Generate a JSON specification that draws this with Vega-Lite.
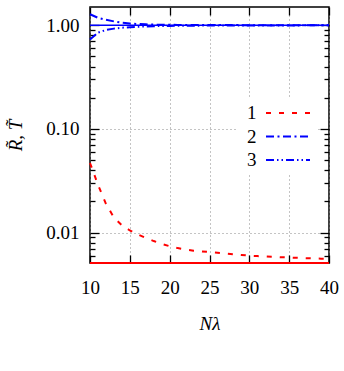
{
  "$schema": "https://vega.github.io/schema/vega-lite/v6.json",
  "width": 239,
  "height": 256,
  "autosize": "none",
  "padding": {"left": 90, "top": 7, "right": 15, "bottom": 108},
  "background": "white",
  "config": {
    "font": "Liberation Serif",
    "view": {"stroke": "black", "strokeWidth": 1.5},
    "axis": {
      "domain": false,
      "tickColor": "black",
      "tickWidth": 1.3,
      "labelColor": "black",
      "labelFont": "Liberation Serif",
      "labelFontSize": 19,
      "labelFlush": false,
      "titleColor": "black",
      "titleFont": "Liberation Serif",
      "titleFontSize": 19,
      "titleFontWeight": "normal",
      "titleFontStyle": "italic",
      "gridColor": "#888888",
      "gridDash": [1, 3],
      "gridWidth": 1
    }
  },
  "datasets": {
    "curves": [
      {"N": 10, "v": 0.047, "s": "1"}, {"N": 11, "v": 0.029, "s": "1"}, {"N": 12, "v": 0.019, "s": "1"},
      {"N": 13, "v": 0.014, "s": "1"}, {"N": 14, "v": 0.0118, "s": "1"}, {"N": 15, "v": 0.0105, "s": "1"},
      {"N": 16, "v": 0.0096, "s": "1"}, {"N": 17, "v": 0.0089, "s": "1"}, {"N": 18, "v": 0.0083, "s": "1"},
      {"N": 19, "v": 0.0078, "s": "1"}, {"N": 20, "v": 0.0074, "s": "1"}, {"N": 21, "v": 0.0071, "s": "1"},
      {"N": 22, "v": 0.0069, "s": "1"}, {"N": 23, "v": 0.0067, "s": "1"}, {"N": 24, "v": 0.0066, "s": "1"},
      {"N": 25, "v": 0.0065, "s": "1"}, {"N": 26, "v": 0.0064, "s": "1"}, {"N": 27, "v": 0.0063, "s": "1"},
      {"N": 28, "v": 0.0062, "s": "1"}, {"N": 29, "v": 0.0061, "s": "1"}, {"N": 30, "v": 0.006, "s": "1"},
      {"N": 31, "v": 0.00595, "s": "1"}, {"N": 32, "v": 0.0059, "s": "1"}, {"N": 33, "v": 0.00585, "s": "1"},
      {"N": 34, "v": 0.0058, "s": "1"}, {"N": 35, "v": 0.00576, "s": "1"}, {"N": 36, "v": 0.00572, "s": "1"},
      {"N": 37, "v": 0.00568, "s": "1"}, {"N": 38, "v": 0.00565, "s": "1"}, {"N": 39, "v": 0.00562, "s": "1"},
      {"N": 40, "v": 0.0056, "s": "1"},
      {"N": 10, "v": 1.276, "s": "2"}, {"N": 11, "v": 1.18, "s": "2"}, {"N": 12, "v": 1.13, "s": "2"},
      {"N": 13, "v": 1.09, "s": "2"}, {"N": 14, "v": 1.06, "s": "2"}, {"N": 15, "v": 1.04, "s": "2"},
      {"N": 16, "v": 1.028, "s": "2"}, {"N": 17, "v": 1.02, "s": "2"}, {"N": 18, "v": 1.015, "s": "2"},
      {"N": 19, "v": 1.012, "s": "2"}, {"N": 20, "v": 1.01, "s": "2"}, {"N": 21, "v": 1.008, "s": "2"},
      {"N": 22, "v": 1.007, "s": "2"}, {"N": 23, "v": 1.006, "s": "2"}, {"N": 24, "v": 1.005, "s": "2"},
      {"N": 25, "v": 1.005, "s": "2"}, {"N": 26, "v": 1.004, "s": "2"}, {"N": 27, "v": 1.004, "s": "2"},
      {"N": 28, "v": 1.004, "s": "2"}, {"N": 29, "v": 1.003, "s": "2"}, {"N": 30, "v": 1.003, "s": "2"},
      {"N": 31, "v": 1.003, "s": "2"}, {"N": 32, "v": 1.003, "s": "2"}, {"N": 33, "v": 1.003, "s": "2"},
      {"N": 34, "v": 1.002, "s": "2"}, {"N": 35, "v": 1.002, "s": "2"}, {"N": 36, "v": 1.002, "s": "2"},
      {"N": 37, "v": 1.002, "s": "2"}, {"N": 38, "v": 1.002, "s": "2"}, {"N": 39, "v": 1.002, "s": "2"},
      {"N": 40, "v": 1.002, "s": "2"},
      {"N": 10, "v": 0.729, "s": "3"}, {"N": 11, "v": 0.85, "s": "3"}, {"N": 12, "v": 0.9, "s": "3"},
      {"N": 13, "v": 0.928, "s": "3"}, {"N": 14, "v": 0.946, "s": "3"}, {"N": 15, "v": 0.958, "s": "3"},
      {"N": 16, "v": 0.967, "s": "3"}, {"N": 17, "v": 0.974, "s": "3"}, {"N": 18, "v": 0.979, "s": "3"},
      {"N": 19, "v": 0.983, "s": "3"}, {"N": 20, "v": 0.986, "s": "3"}, {"N": 21, "v": 0.988, "s": "3"},
      {"N": 22, "v": 0.99, "s": "3"}, {"N": 23, "v": 0.991, "s": "3"}, {"N": 24, "v": 0.992, "s": "3"},
      {"N": 25, "v": 0.993, "s": "3"}, {"N": 26, "v": 0.994, "s": "3"}, {"N": 27, "v": 0.994, "s": "3"},
      {"N": 28, "v": 0.995, "s": "3"}, {"N": 29, "v": 0.995, "s": "3"}, {"N": 30, "v": 0.996, "s": "3"},
      {"N": 31, "v": 0.996, "s": "3"}, {"N": 32, "v": 0.996, "s": "3"}, {"N": 33, "v": 0.997, "s": "3"},
      {"N": 34, "v": 0.997, "s": "3"}, {"N": 35, "v": 0.997, "s": "3"}, {"N": 36, "v": 0.997, "s": "3"},
      {"N": 37, "v": 0.998, "s": "3"}, {"N": 38, "v": 0.998, "s": "3"}, {"N": 39, "v": 0.998, "s": "3"},
      {"N": 40, "v": 0.998, "s": "3"}
    ],
    "flat": [
      {"N": 10, "v": 1.0, "s": "T"}, {"N": 40, "v": 1.0, "s": "T"},
      {"N": 10, "v": 0.0051, "s": "R"}, {"N": 40, "v": 0.0051, "s": "R"}
    ]
  },
  "layer": [
    {
      "data": {"name": "flat"},
      "transform": [{"filter": "datum.s == 'T'"}],
      "mark": {"type": "line", "color": "blue", "strokeWidth": 1.5},
      "encoding": {
        "x": {
          "field": "N", "type": "quantitative",
          "scale": {"domain": [10, 40], "nice": false, "zero": false},
          "axis": {"orient": "top", "values": [10, 15, 20, 25, 30, 35, 40], "labels": false, "title": null, "grid": false, "tickSize": -8}
        },
        "y": {
          "field": "v", "type": "quantitative",
          "scale": {"type": "log", "domain": [0.0051, 1.5], "nice": false},
          "axis": {
            "orient": "right", "labels": false, "title": null, "grid": false,
            "values": [0.006, 0.007, 0.008, 0.009, 0.01, 0.02, 0.03, 0.04, 0.05, 0.06, 0.07, 0.08, 0.09, 0.1, 0.2, 0.3, 0.4, 0.5, 0.6, 0.7, 0.8, 0.9, 1],
            "tickSize": {"condition": {"test": "abs(log(datum.value)/LN10 - round(log(datum.value)/LN10)) < 0.01", "value": -9}, "value": -5}
          }
        }
      }
    },
    {
      "data": {"name": "flat"},
      "transform": [{"filter": "datum.s == 'R'"}],
      "mark": {"type": "line", "color": "red", "strokeWidth": 2},
      "encoding": {
        "x": {"field": "N", "type": "quantitative", "axis": null},
        "y": {"field": "v", "type": "quantitative", "axis": null}
      }
    },
    {
      "data": {"name": "curves"},
      "mark": {"type": "line", "strokeWidth": 2},
      "encoding": {
        "x": {
          "field": "N", "type": "quantitative",
          "axis": {
            "orient": "bottom", "values": [10, 15, 20, 25, 30, 35, 40], "format": "d",
            "title": "Nλ", "grid": true, "tickSize": -8, "labelPadding": 23, "titlePadding": 17
          }
        },
        "y": {
          "field": "v", "type": "quantitative",
          "axis": {
            "orient": "left", "title": "R̃, T̃", "grid": true,
            "values": [0.006, 0.007, 0.008, 0.009, 0.01, 0.02, 0.03, 0.04, 0.05, 0.06, 0.07, 0.08, 0.09, 0.1, 0.2, 0.3, 0.4, 0.5, 0.6, 0.7, 0.8, 0.9, 1],
            "labelExpr": "abs(log(datum.value)/LN10 - round(log(datum.value)/LN10)) < 0.01 ? format(datum.value, '.2f') : ''",
            "tickSize": {"condition": {"test": "abs(log(datum.value)/LN10 - round(log(datum.value)/LN10)) < 0.01", "value": -9}, "value": -5},
            "gridOpacity": {"condition": {"test": "abs(log(datum.value)/LN10 - round(log(datum.value)/LN10)) < 0.01", "value": 1}, "value": 0},
            "labelPadding": 20, "titlePadding": 20
          }
        },
        "color": {
          "field": "s", "type": "nominal",
          "scale": {"domain": ["1", "2", "3"], "range": ["red", "blue", "blue"]},
          "legend": {
            "orient": "none", "legendX": 148, "legendY": 91, "title": null,
            "labelFontSize": 19, "labelFont": "Liberation Serif", "labelColor": "black",
            "symbolType": "M-2,0H2", "symbolSize": 484, "symbolStrokeWidth": 2,
            "labelOffset": -53, "symbolOffset": 35, "labelAlign": "left",
            "fillColor": "white", "padding": 3, "rowPadding": 1.5
          }
        },
        "strokeDash": {
          "field": "s", "type": "nominal",
          "scale": {"domain": ["1", "2", "3"], "range": [[5, 8], [8, 3.5, 2, 3.5], [8, 3, 1.5, 3, 1.5, 3]]},
          "legend": {
            "orient": "none", "legendX": 148, "legendY": 91, "title": null,
            "labelFontSize": 19, "labelFont": "Liberation Serif", "labelColor": "black",
            "symbolType": "M-2,0H2", "symbolSize": 484, "symbolStrokeWidth": 2,
            "labelOffset": -53, "symbolOffset": 35, "labelAlign": "left",
            "fillColor": "white", "padding": 3, "rowPadding": 1.5
          }
        }
      }
    }
  ],
  "resolve": {"axis": {"x": "independent", "y": "independent"}}
}
